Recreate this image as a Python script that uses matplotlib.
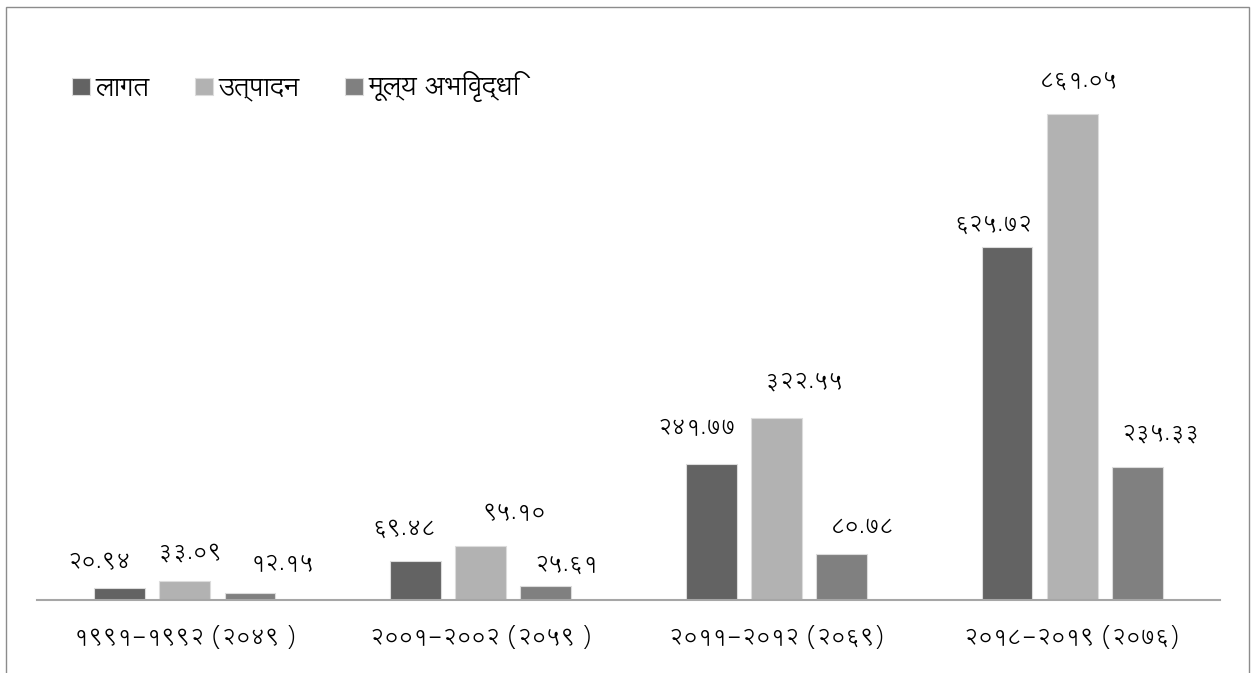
import matplotlib
matplotlib.use("Agg")
import matplotlib.pyplot as plt
from matplotlib.patches import Rectangle
from matplotlib.transforms import offset_copy

categories = ["१९९१-१९९२ (२०४९ )", "२००१-२००२ (२०५९ )", "२०११-२०१२ (२०६९)", "२०१८-२०१९ (२०७६)"]
series_names = ["लागत", "उत्पादन", "मूल्य अभिवृद्धि"]
lagat = [20.94, 69.48, 241.77, 625.72]
utpadan = [33.09, 95.10, 322.55, 861.05]
mulya = [12.15, 25.61, 80.78, 235.33]
colors = ["#636363", "#b2b2b2", "#808080"]

# hand-placed label nudges from the original (pixels: right, above bar top)
label_dx = [[-20, -11, -15, -14], [5, 34, 28, 7], [33, 21, 21, 24]]
label_dy = [[26, 32, 36, 22], [29, 33, 36, 33], [30, 21, 27, 34]]

plt.rcParams["font.family"] = ["Lohit Devanagari", "DejaVu Sans"]

devnum = str.maketrans("0123456789", "०१२३४५६७८९")


def to_deva(v):
    return f"{v:.2f}".translate(devnum)


W, H = 1252, 673
fig = plt.figure(figsize=(W / 100, H / 100), dpi=100)
ax = fig.add_axes([37 / W, 1 - 600 / H, (1220 - 37) / W, (600 - 30) / H])

# frame around the whole chart
fig.add_artist(Rectangle((6 / W, -0.1), (1249 - 6) / W, 1.1 - 7 / H,
                         transform=fig.transFigure, fill=False,
                         edgecolor="#8c8c8c", linewidth=1.0))

px_per_unit = (600 - 114) / 861.05
ax.set_ylim(0, (600 - 30) / px_per_unit)
ax.set_xlim(-0.5, 3.5)

width = 0.172
step = 0.22
x = list(range(len(categories)))
for i, (vals, name) in enumerate(zip([lagat, utpadan, mulya], series_names)):
    xs = [c + (i - 1) * step for c in x]
    ax.bar(xs, vals, width=width, color=colors[i], edgecolor="#dcdcdc",
           linewidth=0.8, label=name)
    for j, (xv, v) in enumerate(zip(xs, vals)):
        tr = offset_copy(ax.transData, fig=fig, x=label_dx[i][j] * 0.72,
                         y=label_dy[i][j] * 0.72, units="points")
        ax.text(xv, v, to_deva(v), transform=tr, ha="center", va="center",
                fontsize=16, color="black")

for s in ["top", "right", "left"]:
    ax.spines[s].set_visible(False)
ax.spines["bottom"].set_color("#a6a6a6")
ax.spines["bottom"].set_linewidth(1.5)
ax.set_yticks([])
ax.set_xticks(x)
ax.set_xticklabels(categories, fontsize=16)
ax.tick_params(axis="x", length=0, pad=18)

leg = fig.legend(loc="center left", bbox_to_anchor=(72 / W, 1 - 87 / H),
                 ncol=3, frameon=False, fontsize=19, handlelength=0.7,
                 handleheight=0.6, handletextpad=0.2, columnspacing=1.7,
                 borderaxespad=0, borderpad=0)

fig.savefig("out.png", dpi=100)
